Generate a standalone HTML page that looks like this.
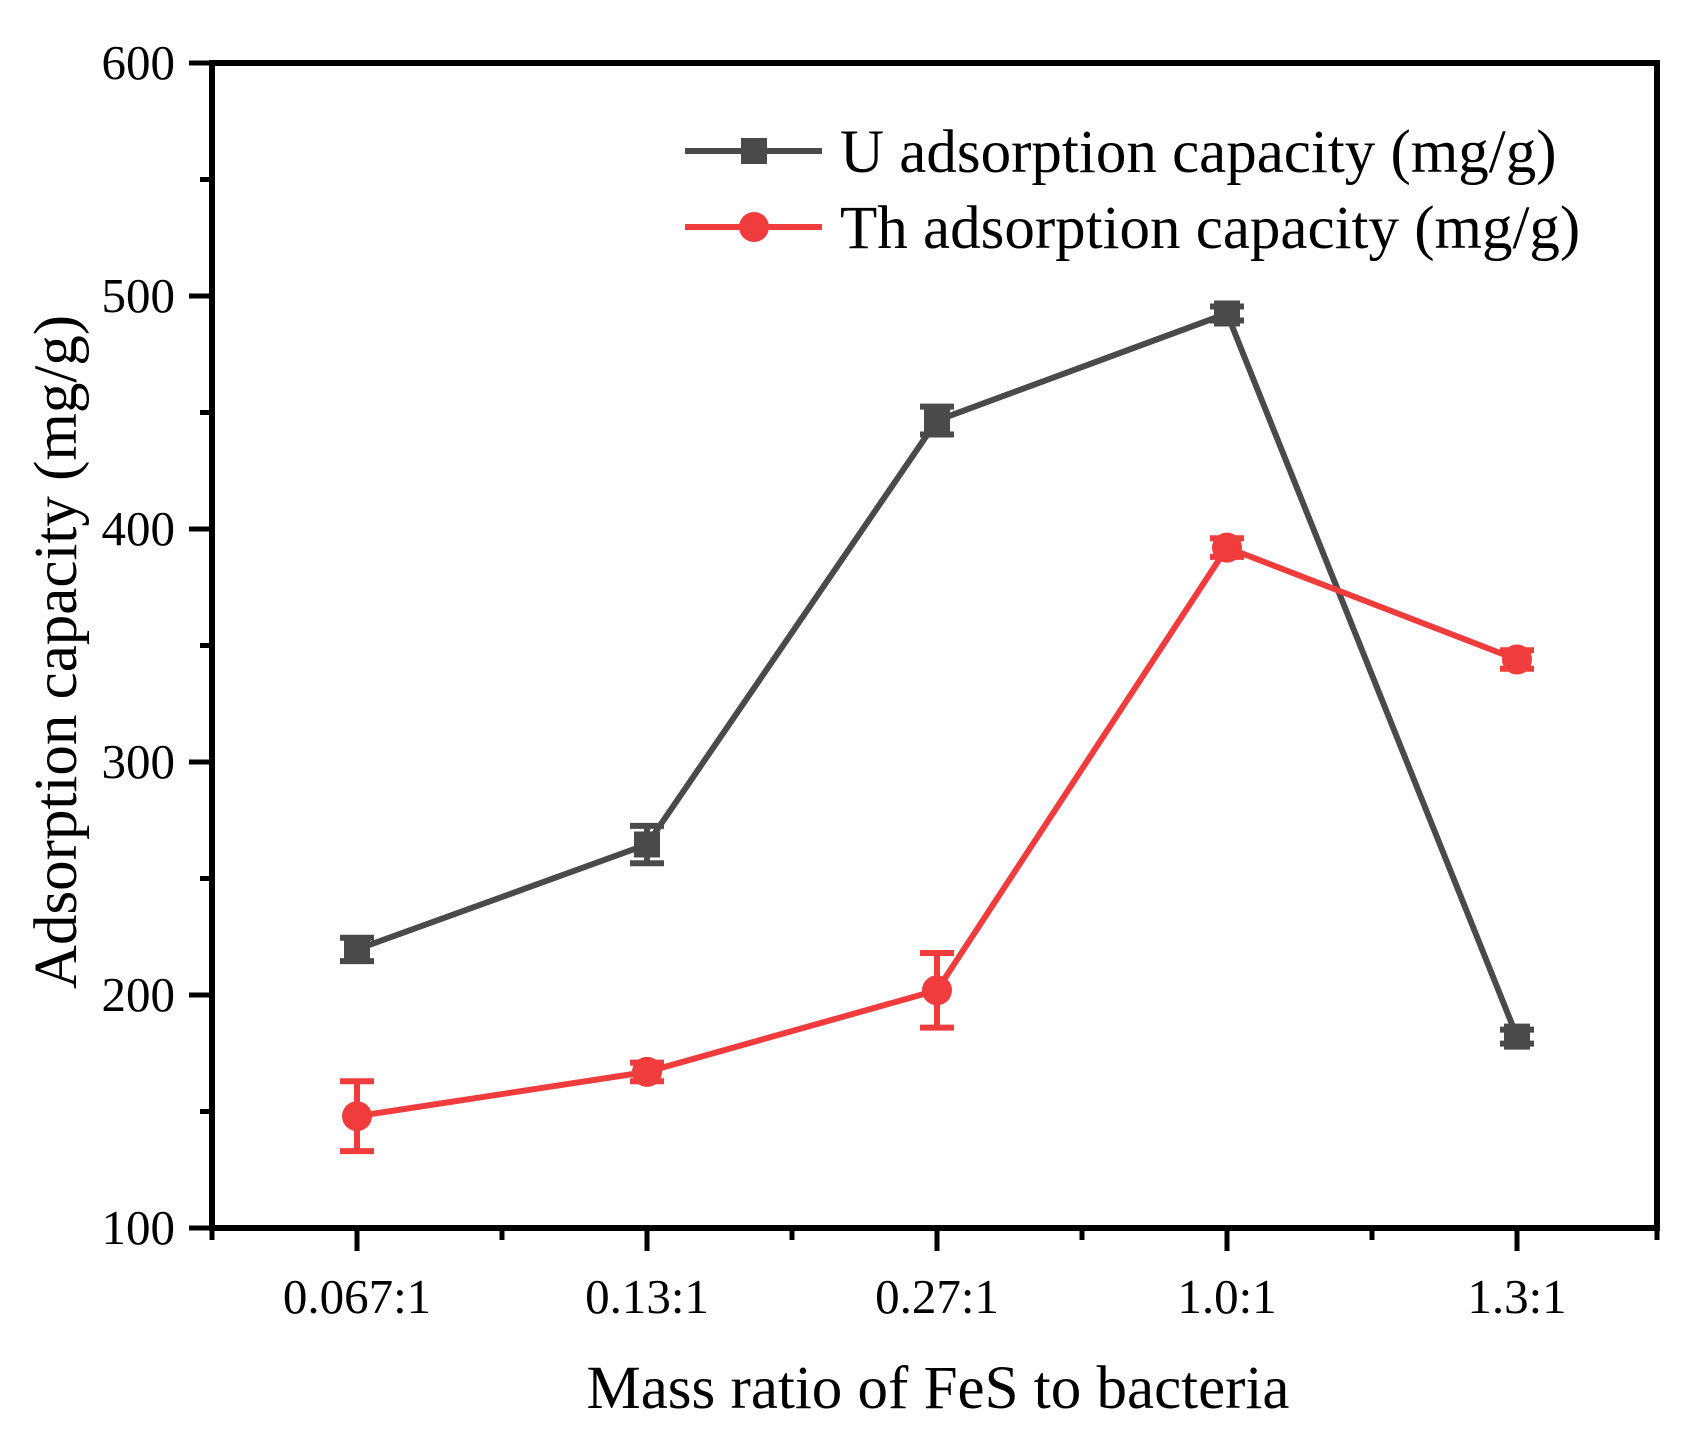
<!DOCTYPE html>
<html><head><meta charset="utf-8"><style>body{margin:0;background:#fff}svg{display:block}text{font-family:"Liberation Serif",serif;fill:#000}</style></head><body>
<svg width="1688" height="1437" viewBox="0 0 1688 1437" xmlns="http://www.w3.org/2000/svg">
<rect x="212" y="63" width="1445" height="1165" fill="none" stroke="#000" stroke-width="6"/>
<g stroke="#000" stroke-width="5">
<line x1="212" y1="1228" x2="212" y2="1240"/><line x1="357" y1="1228" x2="357" y2="1251"/><line x1="502" y1="1228" x2="502" y2="1240"/><line x1="647" y1="1228" x2="647" y2="1251"/><line x1="792" y1="1228" x2="792" y2="1240"/><line x1="937" y1="1228" x2="937" y2="1251"/><line x1="1082" y1="1228" x2="1082" y2="1240"/><line x1="1227" y1="1228" x2="1227" y2="1251"/><line x1="1372" y1="1228" x2="1372" y2="1240"/><line x1="1517" y1="1228" x2="1517" y2="1251"/><line x1="1657" y1="1228" x2="1657" y2="1240"/>
<line x1="189" y1="63" x2="212" y2="63"/><line x1="200" y1="179.5" x2="212" y2="179.5"/><line x1="189" y1="296" x2="212" y2="296"/><line x1="200" y1="412.5" x2="212" y2="412.5"/><line x1="189" y1="529" x2="212" y2="529"/><line x1="200" y1="645.5" x2="212" y2="645.5"/><line x1="189" y1="762" x2="212" y2="762"/><line x1="200" y1="878.5" x2="212" y2="878.5"/><line x1="189" y1="995" x2="212" y2="995"/><line x1="200" y1="1111.5" x2="212" y2="1111.5"/><line x1="189" y1="1228" x2="212" y2="1228"/>
</g>
<g font-size="49" text-anchor="end">
<text x="175" y="79">600</text><text x="175" y="312">500</text><text x="175" y="545">400</text><text x="175" y="778">300</text><text x="175" y="1011">200</text><text x="175" y="1244">100</text>
</g>
<g font-size="49" text-anchor="middle">
<text x="357" y="1313">0.067:1</text><text x="647" y="1313">0.13:1</text><text x="937" y="1313">0.27:1</text><text x="1227" y="1313">1.0:1</text><text x="1517" y="1313">1.3:1</text>
</g>
<text x="938" y="1408" font-size="61" text-anchor="middle">Mass ratio of FeS to bacteria</text>
<text transform="translate(76,652) rotate(-90)" font-size="61" text-anchor="middle">Adsorption capacity (mg/g)</text>
<g stroke="#4a4a4a" stroke-width="6" fill="none">
<polyline points="357,949.4 647,844.5 937,420.5 1227,313.5 1517,1036.6"/>
<path d="M357,937.7V961.1M340,937.7H374M340,961.1H374"/>
<path d="M647,825.9V863.2M630,825.9H664M630,863.2H664"/>
<path d="M937,406.6V434.5M920,406.6H954M920,434.5H954"/>
<path d="M1227,306.5V320.5M1210,306.5H1244M1210,320.5H1244"/>
<path d="M1517,1029.6V1043.6M1500,1029.6H1534M1500,1043.6H1534"/>
</g>
<g fill="#4a4a4a">
<rect x="344" y="936.4" width="26" height="26"/><rect x="634" y="831.5" width="26" height="26"/><rect x="924" y="407.5" width="26" height="26"/><rect x="1214" y="300.5" width="26" height="26"/><rect x="1504" y="1023.6" width="26" height="26"/>
</g>
<g stroke="#f03c3c" stroke-width="6" fill="none">
<polyline points="357,1116.2 647,1071.9 937,990.3 1227,547.6 1517,659.5"/>
<path d="M357,1081.2V1151.1M340,1081.2H374M340,1151.1H374"/>
<path d="M647,1062.6V1081.2M630,1062.6H664M630,1081.2H664"/>
<path d="M937,953V1027.6M920,953H954M920,1027.6H954"/>
<path d="M1227,538.3V556.9M1210,538.3H1244M1210,556.9H1244"/>
<path d="M1517,650.2V668.8M1500,650.2H1534M1500,668.8H1534"/>
</g>
<g fill="#f03c3c">
<circle cx="357" cy="1116.2" r="15"/><circle cx="647" cy="1071.9" r="15"/><circle cx="937" cy="990.3" r="15"/><circle cx="1227" cy="547.6" r="15"/><circle cx="1517" cy="659.5" r="15"/>
</g>
<line x1="685" y1="151" x2="822" y2="151" stroke="#4a4a4a" stroke-width="6"/>
<rect x="741" y="138" width="26" height="26" fill="#4a4a4a"/>
<text x="840" y="172" font-size="61">U adsorption capacity (mg/g)</text>
<line x1="685" y1="227" x2="822" y2="227" stroke="#f03c3c" stroke-width="6"/>
<circle cx="754" cy="227" r="15" fill="#f03c3c"/>
<text x="840" y="248" font-size="61">Th adsorption capacity (mg/g)</text>
</svg>
</body></html>
